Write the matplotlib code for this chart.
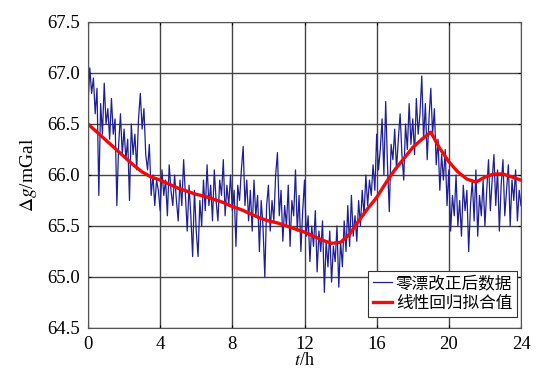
import numpy as np
import matplotlib
matplotlib.use('Agg')
import matplotlib.pyplot as plt

plt.rcParams['font.family'] = ['Liberation Serif', 'Noto Sans CJK SC']
plt.rcParams['mathtext.fontset'] = 'stix'

raw = [
    66.70, 67.05, 66.80, 66.95, 66.60, 66.85, 65.80, 66.70, 66.40, 66.90,
    66.50, 66.65, 66.35, 66.75, 66.40, 66.55, 65.70, 66.30, 66.60, 66.20,
    66.45, 66.15, 66.35, 65.75, 66.50, 66.20, 66.40, 66.05, 66.55, 66.80,
    66.45, 66.65, 66.20, 66.05, 66.30, 65.80, 66.00, 65.70, 65.95, 65.85,
    65.65, 66.05, 65.80, 65.95, 65.60, 66.10, 65.85, 65.70, 66.00, 65.75,
    65.55, 65.95, 65.70, 66.15, 65.80, 65.45, 65.90, 65.60, 65.20, 65.85,
    65.45, 65.20, 65.75, 65.50, 65.95, 65.65, 66.10, 65.70, 65.90, 65.55,
    66.05, 65.75, 65.55, 65.95, 65.80, 66.15, 65.60, 65.90, 65.70, 66.00,
    65.65, 65.85, 65.30, 65.90, 65.75, 66.05, 66.28, 65.70, 65.95, 65.55,
    65.85, 65.45, 65.95, 65.60, 65.80, 65.25, 65.75, 65.50, 65.00, 65.70,
    65.90, 65.45, 65.75, 65.55, 66.00, 66.22, 65.60, 65.85, 65.35, 65.70,
    65.50, 65.90, 65.30, 65.75, 65.60, 66.05, 65.45, 65.80, 65.25, 65.65,
    65.95, 65.40, 65.60, 65.15, 65.50, 65.30, 65.65, 65.05, 65.45, 65.25,
    65.55, 64.85, 65.35, 65.10, 65.45, 64.95, 65.30, 65.15, 65.50, 64.90,
    65.35, 65.10, 65.55, 65.25, 65.70, 65.30, 65.80, 65.40, 65.60, 65.35,
    65.75, 65.50, 65.85, 65.60, 66.00, 65.70, 65.95, 65.80, 66.10, 65.85,
    66.40, 66.05, 66.25, 66.55, 66.00, 66.72, 66.10, 65.64, 66.30, 66.15,
    66.45, 66.05, 66.35, 66.60, 66.20, 65.95, 66.50, 66.25, 66.70, 66.30,
    66.55, 66.20, 66.75, 66.40, 66.60, 66.97, 66.35, 66.70, 66.15, 66.55,
    66.85, 66.40, 66.65, 66.10, 66.35, 65.85, 66.20, 65.95, 66.25, 65.70,
    66.05, 65.45, 65.80, 65.60, 66.00, 65.50, 65.75, 65.40, 65.90, 65.65,
    65.85, 65.25, 65.70, 65.95, 65.55, 66.05, 65.40, 65.80, 65.60, 65.95,
    65.50, 65.85, 66.15, 65.65, 65.95, 66.20, 65.70, 66.05, 65.45, 65.90,
    66.15, 65.60, 65.85, 66.10, 65.50, 65.95, 65.75, 66.05, 65.55, 65.85,
    65.70,
]
t_raw = np.arange(len(raw)) * 0.1

# linear regression fit, every 0.5 h
t_fit = np.arange(0, 24.01, 0.5)
fit = [66.50, 66.42, 66.34, 66.26, 66.18, 66.10, 66.03, 65.98, 65.95, 65.91,
       65.87, 65.84, 65.81, 65.79, 65.76, 65.73, 65.69, 65.66, 65.62, 65.58,
       65.55, 65.53, 65.50, 65.47, 65.44, 65.40, 65.36, 65.33, 65.34, 65.42,
       65.55, 65.67, 65.78, 65.92, 66.05, 66.16, 66.27, 66.35, 66.42, 66.26,
       66.13, 66.03, 65.96, 65.93, 65.98, 66.01, 66.01, 65.98, 65.95]

xticks = [0, 4, 8, 12, 16, 20, 24]
yticks = [64.5, 65.0, 65.5, 66.0, 66.5, 67.0, 67.5]

fig = plt.figure(figsize=(5.58, 3.92), dpi=100)
ax = fig.add_axes([0.1577, 0.1633, 0.776, 0.7806])

ax.plot(t_raw, raw, color='#1e1e96', lw=0.9, label='零漂改正后数据')
ax.plot(t_fit, fit, color='#f00a0a', lw=2.4, label='线性回归拟合值')

ax.set_xlim(0, 24)
ax.set_ylim(64.5, 67.5)
ax.set_xticks(xticks)
ax.set_yticks(yticks)
ax.set_yticklabels(['%.1f' % v for v in yticks])
ax.tick_params(direction='in', length=2, labelsize=13.5, top=True, right=True, pad=6)
ax.grid(True, color='#444444', lw=1.0)
for sp in ax.spines.values():
    sp.set_color('#555555')

ax.set_xlabel(r'$t$/h', fontsize=13, labelpad=-1)
ax.set_ylabel(r'$\Delta g$/mGal', fontsize=14, labelpad=6)

leg = ax.legend(loc='lower right', bbox_to_anchor=(0.991, 0.036), fontsize=12,
                frameon=True, fancybox=False, edgecolor='#333333', framealpha=1,
                handlelength=1.1, borderaxespad=0, borderpad=0.3,
                labelspacing=0.25, handletextpad=0.25)
leg.get_frame().set_linewidth(0.8)

fig.savefig('out.png', dpi=100)
